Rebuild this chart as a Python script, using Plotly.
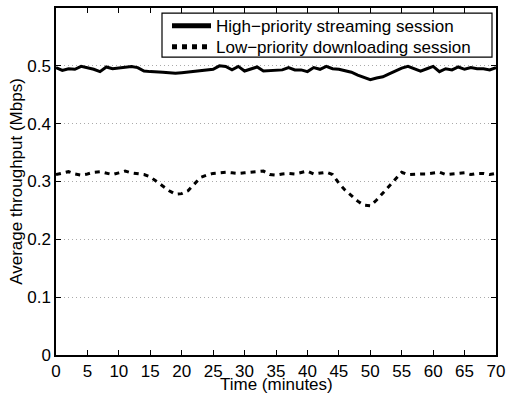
import plotly.graph_objects as go

minutes = list(range(0, 71))
high_priority = [0.497, 0.492, 0.495, 0.494, 0.499, 0.497, 0.494, 0.490, 0.498, 0.495,
                 0.496, 0.498, 0.499, 0.497, 0.491, 0.490, 0.490, 0.489, 0.488, 0.487,
                 0.488, 0.489, 0.490, 0.492, 0.493, 0.494, 0.500, 0.499, 0.493, 0.499,
                 0.491, 0.494, 0.498, 0.491, 0.492, 0.493, 0.493, 0.497, 0.493, 0.493,
                 0.490, 0.497, 0.494, 0.499, 0.495, 0.494, 0.492, 0.489, 0.484, 0.480,
                 0.476, 0.479, 0.481, 0.486, 0.491, 0.496, 0.499, 0.495, 0.491, 0.495,
                 0.499, 0.490, 0.495, 0.493, 0.498, 0.494, 0.497, 0.495, 0.495, 0.493,
                 0.497]
low_priority = [0.312, 0.314, 0.317, 0.313, 0.311, 0.313, 0.316, 0.317, 0.315, 0.312,
                0.315, 0.318, 0.315, 0.313, 0.312, 0.308, 0.300, 0.292, 0.284, 0.278,
                0.279, 0.284, 0.295, 0.307, 0.311, 0.314, 0.315, 0.316, 0.315, 0.314,
                0.315, 0.316, 0.318, 0.318, 0.312, 0.311, 0.313, 0.314, 0.313, 0.316,
                0.318, 0.313, 0.314, 0.316, 0.312, 0.297, 0.285, 0.276, 0.266, 0.259,
                0.258, 0.268, 0.280, 0.292, 0.303, 0.316, 0.312, 0.313, 0.313, 0.313,
                0.314, 0.316, 0.312, 0.313, 0.313, 0.315, 0.312, 0.314, 0.314, 0.312,
                0.314]
x_ticks = list(range(0, 71, 5))
y_ticks = [0, 0.1, 0.2, 0.3, 0.4, 0.5]
y_tick_labels = ["0", "0.1", "0.2", "0.3", "0.4", "0.5"]
series_names = ["High\u2212priority streaming session", "Low\u2212priority downloading session"]
x_title = "Time (minutes)"
y_title = "Average throughput (Mbps)"

font_family = "Liberation Sans, Arial, Helvetica, sans-serif"
FS = 17

W, H = 509, 394
ML, MR, MT, MB = 56, 13, 7.5, 39.3
PW, PH = W - ML - MR, H - MT - MB


def px_x(p):
    return (p - ML) / PW


def px_y(p):
    return (H - MB - p) / PH


fig = go.Figure()
fig.add_trace(go.Scatter(x=minutes, y=high_priority, mode="lines",
                         name=series_names[0], legend="legend",
                         line=dict(color="black", width=3)))
fig.add_trace(go.Scatter(x=minutes, y=low_priority, mode="lines",
                         name=series_names[1], legend="legend2",
                         line=dict(color="black", width=3, dash="5px,5px")))

leg_common = dict(xanchor="left", yanchor="top", borderwidth=0,
                  bgcolor="rgba(0,0,0,0)", font=dict(size=FS, family=font_family),
                  itemsizing="constant", itemwidth=39)

fig.update_layout(
    width=W, height=H,
    margin=dict(l=ML, r=MR, t=MT, b=MB),
    paper_bgcolor="white", plot_bgcolor="white",
    font=dict(family=font_family, size=FS, color="black"),
    showlegend=True,
    legend=dict(x=px_x(167), y=px_y(7.6), **leg_common),
    legend2=dict(x=px_x(167), y=px_y(28.6), **leg_common),
    shapes=[dict(type="rect", xref="paper", yref="paper",
                 x0=px_x(162), x1=px_x(492), y0=px_y(56.7), y1=px_y(12.7),
                 line=dict(color="black", width=1.2), fillcolor="white", layer="above")],
    annotations=[dict(text=x_title, xref="paper", yref="paper", x=0.5, y=px_y(384.5),
                      xanchor="center", yanchor="middle", showarrow=False,
                      font=dict(size=FS))],
)
fig.update_xaxes(range=[0, 70], tickvals=x_ticks, ticks="inside", ticklen=5,
                 tickcolor="black", showline=True, linecolor="black", linewidth=1.5,
                 mirror="ticks", showgrid=False, zeroline=False, automargin=False,
                 tickfont=dict(size=FS))
fig.update_yaxes(range=[0, 0.6], tickvals=y_ticks, ticktext=y_tick_labels,
                 ticks="inside", ticklen=5, tickcolor="black", showline=True,
                 linecolor="black", linewidth=1.5, mirror="ticks",
                 showgrid=True, gridcolor="#aaaaaa", griddash="1px,3px", gridwidth=1,
                 zeroline=False, automargin=False,
                 title=dict(text=y_title, font=dict(size=FS), standoff=0),
                 tickfont=dict(size=FS))

fig.write_html("out.html")
